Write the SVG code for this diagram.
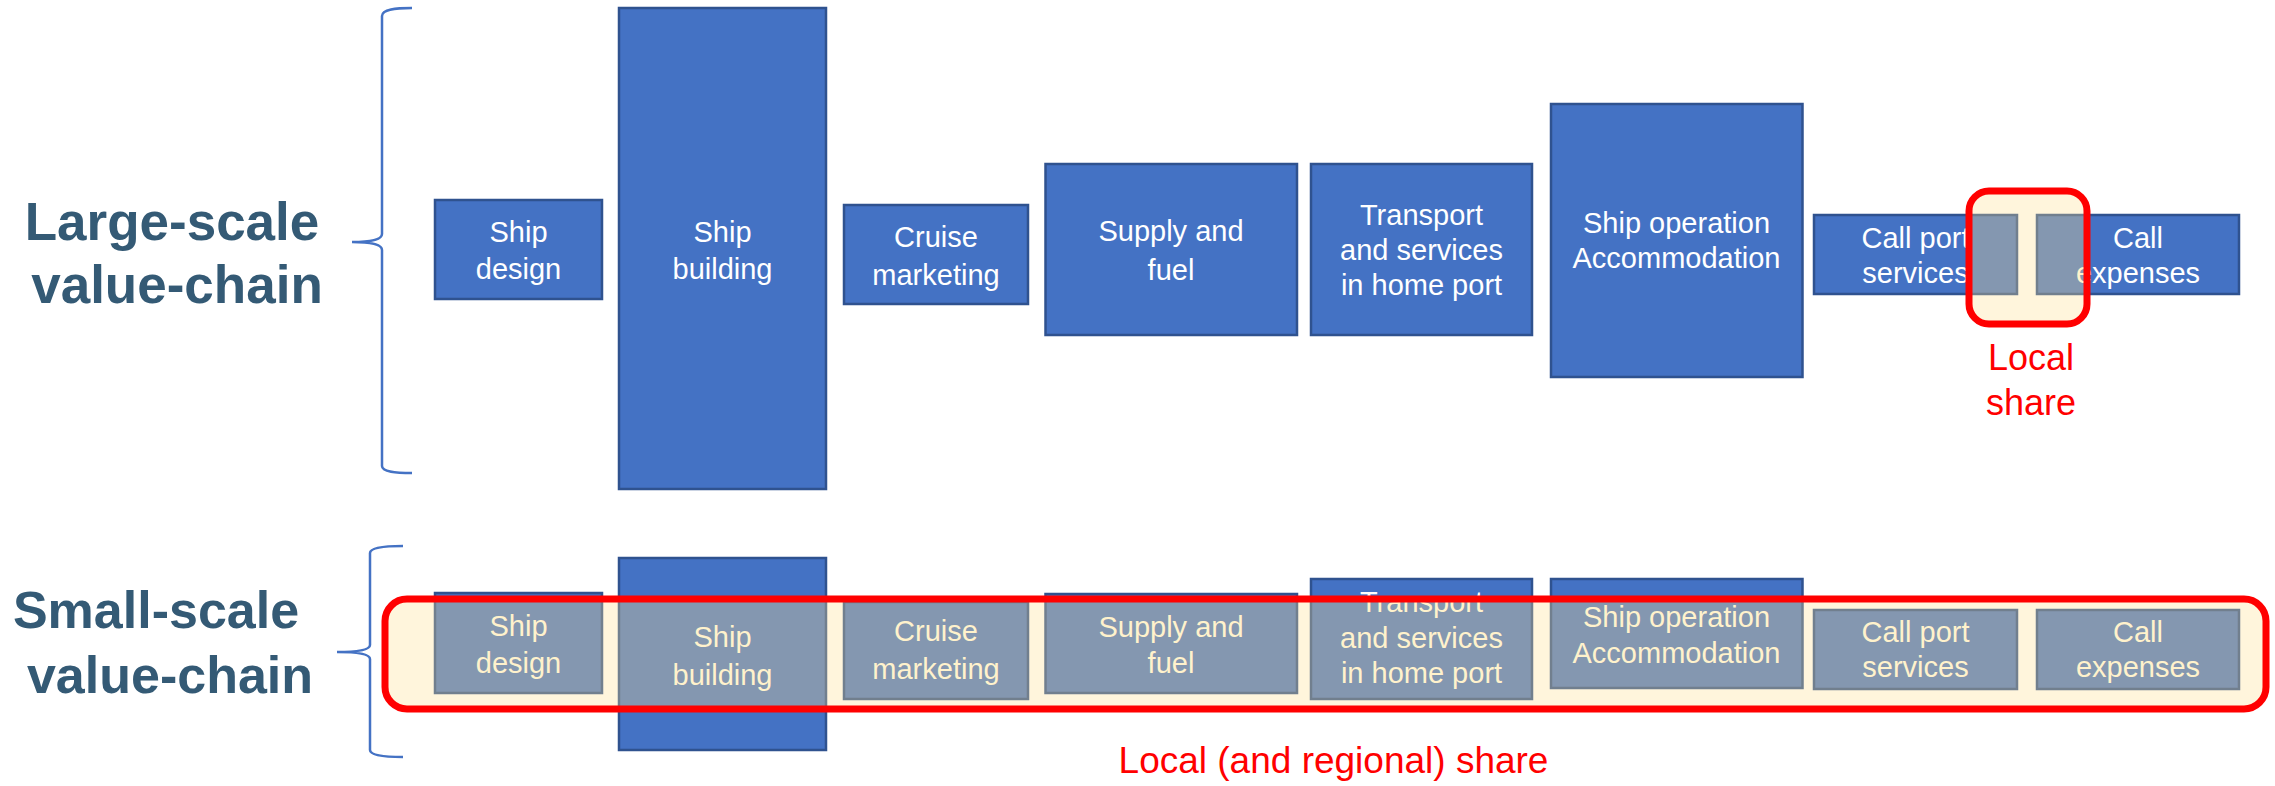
<svg xmlns="http://www.w3.org/2000/svg" width="2275" height="786" viewBox="0 0 2275 786">
<style>
.blue{fill:#4472C4;stroke:#2F528F;stroke-width:2.5}
.grey{fill:#8497B0;stroke:#717F8E;stroke-width:2.5}
.wt{fill:#FFFFFF;font-family:'Liberation Sans',Arial,sans-serif;font-size:29px;text-anchor:middle}
.ct{fill:#FFF2CC;font-family:'Liberation Sans',Arial,sans-serif;font-size:29px;text-anchor:middle}
.lbl{fill:#345A75;font-family:'Liberation Sans',Arial,sans-serif;font-weight:bold;text-anchor:middle}
.red{fill:#FF0000;font-family:'Liberation Sans',Arial,sans-serif;font-size:36px;text-anchor:middle}
.brace{fill:none;stroke:#4472C4;stroke-width:2.5}
.ring{fill:none;stroke:#FF0000;stroke-width:7}
.cream{fill:#FFF5DC}
</style>
<defs>
<clipPath id="clipTop"><rect x="1969" y="191" width="118" height="133" rx="20"/></clipPath>
<clipPath id="clipBot"><rect x="385" y="599" width="1881" height="110" rx="22"/></clipPath>
</defs>

<!-- labels -->
<g id="label-large">
<text class="lbl" font-size="53" x="172" y="240">Large-scale</text>
<text class="lbl" font-size="53" x="177" y="303">value-chain</text>
</g>
<g id="label-small">
<text class="lbl" font-size="52" x="156" y="628">Small-scale</text>
<text class="lbl" font-size="52" x="170" y="693">value-chain</text>
</g>

<!-- braces -->
<g id="braces">
<path class="brace" d="M412,8 C396,8 382,9 382,16 L382,234 C382,240 370,242 352,242 C370,242 382,244 382,250 L382,466 C382,472 396,473 412,473"/>
<path class="brace" d="M403,546 C388,546 370,547 370,553 L370,645 C370,650 358,652 337,652 C358,652 370,654 370,659 L370,750 C370,756 388,757 403,757"/>
</g>

<!-- connectors (none in this diagram) -->
<g id="connectors"/>

<!-- Large-scale value chain -->
<g id="top-ship-design"><rect class="blue" x="435" y="200" width="167" height="99"/>
<text class="wt" x="518.5" y="242">Ship</text><text class="wt" x="518.5" y="279">design</text></g>
<g id="top-ship-building"><rect class="blue" x="619" y="8" width="207" height="481"/>
<text class="wt" x="722.5" y="242">Ship</text><text class="wt" x="722.5" y="279">building</text></g>
<g id="top-cruise-marketing"><rect class="blue" x="844" y="205" width="184" height="99"/>
<text class="wt" x="936" y="247">Cruise</text><text class="wt" x="936" y="285">marketing</text></g>
<g id="top-supply-fuel"><rect class="blue" x="1045.5" y="164" width="251.5" height="171"/>
<text class="wt" x="1171" y="241">Supply and</text><text class="wt" x="1171" y="280">fuel</text></g>
<g id="top-transport"><rect class="blue" x="1311" y="164" width="221" height="171"/>
<text class="wt" x="1421.5" y="225">Transport</text><text class="wt" x="1421.5" y="260">and services</text><text class="wt" x="1421.5" y="295">in home port</text></g>
<g id="top-ship-operation"><rect class="blue" x="1551" y="104" width="251.5" height="273"/>
<text class="wt" x="1676.5" y="233">Ship operation</text><text class="wt" x="1676.5" y="268">Accommodation</text></g>
<g id="top-call-port"><rect class="blue" x="1814" y="215" width="203" height="79"/>
<text class="wt" x="1915.5" y="248">Call port</text><text class="wt" x="1915.5" y="283">services</text></g>
<g id="top-call-expenses"><rect class="blue" x="2037" y="215" width="202" height="79"/>
<text class="wt" x="2138" y="248">Call</text><text class="wt" x="2138" y="283">expenses</text></g>

<!-- Local share highlight (top) -->
<g id="local-share-top">
<g clip-path="url(#clipTop)">
<rect class="cream" x="1960" y="180" width="140" height="160"/>
<rect class="grey" x="1814" y="215" width="203" height="79"/>
<text class="ct" x="1915.5" y="248">Call port</text><text class="ct" x="1915.5" y="283">services</text>
<rect class="grey" x="2037" y="215" width="202" height="79"/>
<text class="ct" x="2138" y="248">Call</text><text class="ct" x="2138" y="283">expenses</text>
</g>
<rect class="ring" x="1969" y="191" width="118" height="133" rx="20"/>
<text class="red" x="2031" y="370">Local</text>
<text class="red" x="2031" y="415">share</text>
</g>

<!-- Small-scale value chain -->
<g id="bot-ship-design"><rect class="blue" x="435" y="593" width="167" height="100"/>
<text class="wt" x="518.5" y="636">Ship</text><text class="wt" x="518.5" y="673">design</text></g>
<g id="bot-ship-building"><rect class="blue" x="619" y="558" width="207" height="192"/>
<text class="wt" x="722.5" y="647">Ship</text><text class="wt" x="722.5" y="685">building</text></g>
<g id="bot-cruise-marketing"><rect class="blue" x="844" y="602" width="184" height="97"/>
<text class="wt" x="936" y="641">Cruise</text><text class="wt" x="936" y="679">marketing</text></g>
<g id="bot-supply-fuel"><rect class="blue" x="1045.5" y="594" width="251.5" height="99"/>
<text class="wt" x="1171" y="637">Supply and</text><text class="wt" x="1171" y="673">fuel</text></g>
<g id="bot-transport"><rect class="blue" x="1311" y="579" width="221" height="120"/>
<text class="wt" x="1421.5" y="612">Transport</text><text class="wt" x="1421.5" y="648">and services</text><text class="wt" x="1421.5" y="683">in home port</text></g>
<g id="bot-ship-operation"><rect class="blue" x="1551" y="579" width="251.5" height="109"/>
<text class="wt" x="1676.5" y="627">Ship operation</text><text class="wt" x="1676.5" y="663">Accommodation</text></g>
<g id="bot-call-port"><rect class="blue" x="1814" y="610" width="203" height="79"/>
<text class="wt" x="1915.5" y="642">Call port</text><text class="wt" x="1915.5" y="677">services</text></g>
<g id="bot-call-expenses"><rect class="blue" x="2037" y="610" width="202" height="79"/>
<text class="wt" x="2138" y="642">Call</text><text class="wt" x="2138" y="677">expenses</text></g>

<!-- Local (and regional) share highlight (bottom) -->
<g id="local-share-bottom">
<g clip-path="url(#clipBot)">
<rect class="cream" x="380" y="590" width="1895" height="125"/>
<rect class="grey" x="435" y="593" width="167" height="100"/>
<text class="ct" x="518.5" y="636">Ship</text><text class="ct" x="518.5" y="673">design</text>
<rect class="grey" x="619" y="558" width="207" height="192"/>
<text class="ct" x="722.5" y="647">Ship</text><text class="ct" x="722.5" y="685">building</text>
<rect class="grey" x="844" y="602" width="184" height="97"/>
<text class="ct" x="936" y="641">Cruise</text><text class="ct" x="936" y="679">marketing</text>
<rect class="grey" x="1045.5" y="594" width="251.5" height="99"/>
<text class="ct" x="1171" y="637">Supply and</text><text class="ct" x="1171" y="673">fuel</text>
<rect class="grey" x="1311" y="579" width="221" height="120"/>
<text class="ct" x="1421.5" y="612">Transport</text><text class="ct" x="1421.5" y="648">and services</text><text class="ct" x="1421.5" y="683">in home port</text>
<rect class="grey" x="1551" y="579" width="251.5" height="109"/>
<text class="ct" x="1676.5" y="627">Ship operation</text><text class="ct" x="1676.5" y="663">Accommodation</text>
<rect class="grey" x="1814" y="610" width="203" height="79"/>
<text class="ct" x="1915.5" y="642">Call port</text><text class="ct" x="1915.5" y="677">services</text>
<rect class="grey" x="2037" y="610" width="202" height="79"/>
<text class="ct" x="2138" y="642">Call</text><text class="ct" x="2138" y="677">expenses</text>
</g>
<rect class="ring" x="385" y="599" width="1881" height="110" rx="22"/>
<text class="red" font-size="37" x="1333.5" y="773" style="font-size:37px">Local (and regional) share</text>
</g>
</svg>
